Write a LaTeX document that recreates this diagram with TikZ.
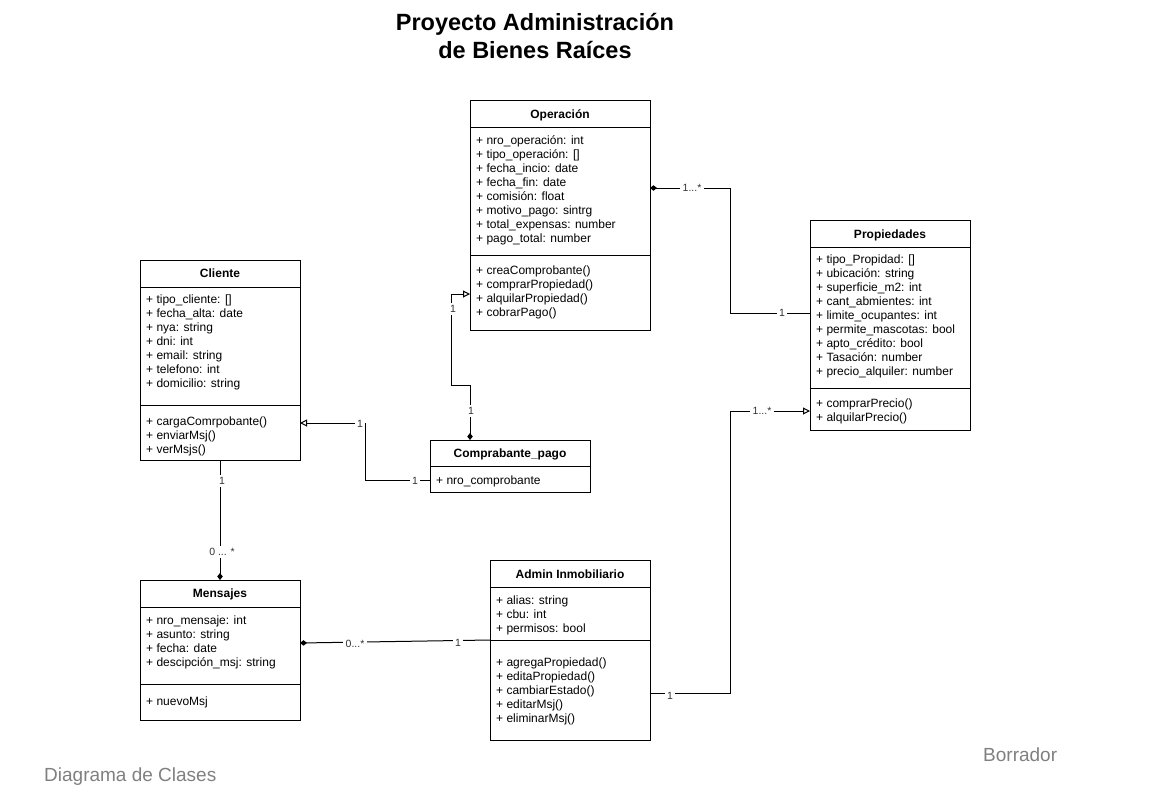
\documentclass[tikz,border=0pt]{standalone}
\usepackage{fontspec}
\setmainfont{Liberation Sans}
\usetikzlibrary{arrows.meta,calc}
\tikzset{
  cls/.style={draw=black, line width=1pt, fill=white, anchor=north west, inner sep=0pt, outer sep=0pt},
  sepline/.style={draw=black, line width=1pt},
  hdr/.style={font=\fontsize{12}{14}\selectfont\bfseries, inner sep=0pt, anchor=base, yshift=-4.3pt},
  attr/.style={font=\fontsize{12}{14}\selectfont, inner sep=0pt, anchor=base west, yshift=-4.3pt},
  conn/.style={draw=black, line width=1pt},
  lbl/.style={font=\fontsize{10.5}{12}\selectfont, text=black!80, fill=white, inner sep=2.5pt},
  dia/.style={arrows={Diamond[length=7pt,width=5.5pt]-}},
  diaend/.style={arrows={-Diamond[length=7pt,width=5.5pt]}},
  gen/.style={arrows={-Triangle[open,length=7pt,width=7pt]}},
  diagen/.style={arrows={Diamond[length=7pt,width=5.5pt]-Triangle[open,length=7pt,width=7pt]}},
  foot/.style={font=\fontsize{19}{21}\selectfont, text=black!50, inner sep=0pt, anchor=base west}
}
\begin{document}
\begin{tikzpicture}[x=1pt,y=-1pt]
\useasboundingbox (0,0) rectangle (1151,801);
\fill[white] (0,0) rectangle (1151,801);

% Title
\node[font=\fontsize{23.5}{28}\selectfont\bfseries, align=center, inner sep=0pt, anchor=base] (title) at (535,58)
  {Proyecto Administración\\de Bienes Raíces};

% ---------- Operación ----------
\node[cls, minimum width=180pt, minimum height=230pt] (op) at (470,100) {};
\draw[sepline] (470,127) -- (650,127);
\draw[sepline] (470,255) -- (650,255);
\node[hdr] (op-t) at (560,114) {Operación};
\foreach \txt [count=\i] in {+ nro\_operación: int, + tipo\_operación: [], + fecha\_incio: date, + fecha\_fin: date, + comisión: float, + motivo\_pago: sintrg, + total\_expensas: number, + pago\_total: number}
  \node[attr] (op-a\i) at (476,{126+14*\i}) {\txt};
\foreach \txt [count=\i] in {+ creaComprobante(), + comprarPropiedad(), + alquilarPropiedad(), + cobrarPago()}
  \node[attr] (op-m\i) at (476,{256+14*\i}) {\txt};

% ---------- Propiedades ----------
\node[cls, minimum width=160pt, minimum height=210pt] (prop) at (810,220) {};
\draw[sepline] (810,247) -- (970,247);
\draw[sepline] (810,388) -- (970,388);
\node[hdr] (prop-t) at (890,234) {Propiedades};
\foreach \txt [count=\i] in {+ tipo\_Propidad: [], + ubicación: string, + superficie\_m2: int, + cant\_abmientes: int, + limite\_ocupantes: int, + permite\_mascotas: bool, + apto\_crédito: bool, + Tasación: number, + precio\_alquiler: number}
  \node[attr] (prop-a\i) at (816,{245+14*\i}) {\txt};
\foreach \txt [count=\i] in {+ comprarPrecio(), + alquilarPrecio()}
  \node[attr] (prop-m\i) at (816,{389+14*\i}) {\txt};

% ---------- Cliente ----------
\node[cls, minimum width=160pt, minimum height=200pt] (cli) at (140,260) {};
\draw[sepline] (140,287) -- (300,287);
\draw[sepline] (140,405) -- (300,405);
\node[hdr] (cli-t) at (220,273) {Cliente};
\foreach \txt [count=\i] in {+ tipo\_cliente: [], + fecha\_alta: date, + nya: string, + dni: int, + email: string, + telefono: int, + domicilio: string}
  \node[attr] (cli-a\i) at (146,{285+14*\i}) {\txt};
\foreach \txt [count=\i] in {+ cargaComrpobante(), + enviarMsj(), + verMsjs()}
  \node[attr] (cli-m\i) at (146,{407+14*\i}) {\txt};

% ---------- Comprabante_pago ----------
\node[cls, minimum width=160pt, minimum height=52pt] (comp) at (430,440) {};
\draw[sepline] (430,466) -- (590,466);
\node[hdr] (comp-t) at (510,453) {Comprabante\_pago};
\node[attr] (comp-a1) at (436,480) {+ nro\_comprobante};

% ---------- Mensajes ----------
\node[cls, minimum width=160pt, minimum height=140pt] (men) at (140,580) {};
\draw[sepline] (140,607) -- (300,607);
\draw[sepline] (140,684) -- (300,684);
\node[hdr] (men-t) at (220,593) {Mensajes};
\foreach \txt [count=\i] in {+ nro\_mensaje: int, + asunto: string, + fecha: date, + descipción\_msj: string}
  \node[attr] (men-a\i) at (146,{606+14*\i}) {\txt};
\node[attr] (men-m1) at (146,701) {+ nuevoMsj};

% ---------- Admin Inmobiliario ----------
\node[cls, minimum width=160pt, minimum height=180pt] (adm) at (490,560) {};
\draw[sepline] (490,587) -- (650,587);
\draw[sepline] (490,640) -- (650,640);
\node[hdr] (adm-t) at (570,574) {Admin Inmobiliario};
\foreach \txt [count=\i] in {+ alias: string, + cbu: int, + permisos: bool}
  \node[attr] (adm-a\i) at (496,{586+14*\i}) {\txt};
\foreach \txt [count=\i] in {+ agregaPropiedad(), + editaPropiedad(), + cambiarEstado(), + editarMsj(), + eliminarMsj()}
  \node[attr] (adm-m\i) at (496,{648+14*\i}) {\txt};

% ---------- Connectors ----------
% Operación -> Propiedades
\draw[conn, dia] ($(op.north east)+(0,88)$) -- (730,188) -- (730,313) -- ($(prop.north west)+(0,93)$);
% Comprabante_pago -> Operación
\draw[conn, diagen] ($(comp.north west)+(40,0)$) -- (470,385) -- (451,385) -- (451,294) -- ($(op.north west)+(0,194)$);
% Comprabante_pago -> Cliente
\draw[conn, gen] ($(comp.north west)+(0,40)$) -- (365,480) -- (365,423) -- ($(cli.north east)+(0,163)$);
% Cliente -> Mensajes
\draw[conn, diaend] (cli.south) -- (men.north);
% Mensajes -- Admin
\draw[conn, dia] ($(men.north east)+(0,63)$) -- ($(adm.north west)+(0,80)$);
% Admin -> Propiedades
\draw[conn, gen] ($(adm.north east)+(0,133)$) -- (730,693) -- (730,411) -- ($(prop.north west)+(0,191)$);

% ---------- Multiplicity labels ----------
\node[lbl] (l1) at (692,188) {1...*};
\node[lbl] (l2) at (782,313) {1};
\node[lbl] (l3) at (453,309) {1};
\node[lbl] (l4) at (471,411) {1};
\node[lbl] (l5) at (360,424) {1};
\node[lbl] (l6) at (415,481) {1};
\node[lbl] (l7) at (222,481) {1};
\node[lbl] (l8) at (222,552) {0 ... *};
\node[lbl] (l9) at (355,644) {0...*};
\node[lbl] (l10) at (458,643) {1};
\node[lbl] (l11) at (670,696) {1};
\node[lbl] (l12) at (762,411) {1...*};

% ---------- Footer ----------
\node[foot] (diag) at (44,781) {Diagrama de Clases};
\node[foot] (borr) at (983,761) {Borrador};
\end{tikzpicture}
\end{document}
